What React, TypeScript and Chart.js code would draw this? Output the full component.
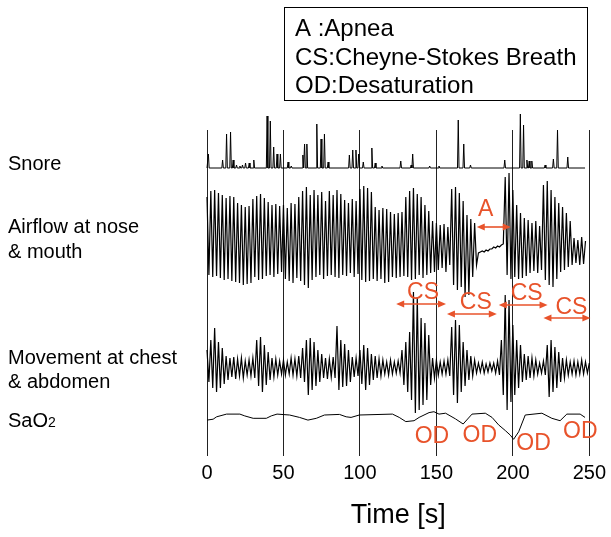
import React, { useEffect, useRef } from 'react';
import { Chart, registerables } from 'chart.js';

Chart.register(...registerables);

const FONT = "'Liberation Sans', Arial, Helvetica, sans-serif";
const RED = '#e8532b';

// ---------------- data ----------------
const timeStep = 1.25; // seconds between airflow / movement samples (alternating peak / trough)

// Snore spikes: time (s) and height (arbitrary units)
const snoreTimes = [0.9, 10.2, 12.8, 15.4, 17.1, 19.3, 21.5, 23.2, 25.2, 27.6, 30.6, 39.3, 41.4, 43.6, 45.8, 48.0, 53.0, 55.1, 62.7, 63.8, 65.3, 71.8, 74.6, 76.8, 79.2, 93.1, 95.3, 97.4, 99.2, 102.2, 107.8, 110.0, 114.4, 126.7, 133.5, 134.5, 145.6, 151.7, 164.3, 167.9, 172.3, 194.7, 204.9, 207.0, 209.2, 210.7, 212.4, 221.1, 226.5, 229.2, 235.9];
const snoreHeights = [14, 8, 34, 36, 8, 3, 2, 3, 5, 5, 8, 52, 47, 21, 14, 14, 6, 2, 13, 24, 24, 44, 29, 34, 6, 13, 18, 18, 14, 6, 20, 5, 2, 7, 3, 14, 2, 2, 48, 24, 3, 8, 54, 43, 8, 7, 7, 3, 9, 38, 11];
const snoreEnd = 247.2;

// Airflow at nose & mouth (8 samples = 10 s per row)
const airflow = [
  38, -40, 44, -42, 45, -41, 42, -43,
  40, -45, 37, -44, 39, -46, 38, -47,
  32, -48, 30, -50, 28, -49, 29, -48,
  36, -42, 39, -45, 41, -44, 37, -41,
  33, -40, 30, -42, 31, -39, 29, -37,
  30, -44, 27, -46, 32, -48, 31, -43,
  38, -46, 44, -50, 48, -53, 40, -45,
  45, -42, 40, -40, 43, -44, 34, -41,
  44, -40, 40, -42, 45, -43, 41, -40,
  35, -41, 32, -38, 36, -42, 34, -39,
  46, -45, 49, -47, 47, -46, 43, -44,
  28, -46, 25, -44, 27, -48, 26, -47,
  23, -42, 21, -43, 22, -42, 23, -41,
  38, -42, 44, -45, 47, -44, 41, -40,
  38, -43, 30, -40, 24, -38, 14, -37,
  12, -35, 10, -33, 11, -37, 8, -30,
  46, -50, 48, -55, 42, -52, 34, -62,
  20, -60, 16, -42, 12, -30, -18, -17,
  -16, -17, -15, -16, -14, -14, -12, -13,
  -11, -12, -10, -9, 58, -40, 62, -44,
  45, -42, 30, -44, 22, -43, 17, -41,
  15, -38, 12, -36, 14, -38, 9, -35,
  50, -45, 54, -50, 45, -52, 38, -44,
  32, -37, 28, -35, 22, -32, 14, -30,
  -3, -28, -5, -30, -2, -29, -6,
];

// Movement at chest & abdomen (8 samples = 10 s per row)
const movement = [
  20, -12, 30, -18, 42, -22, 28, -18,
  22, -14, 14, -10, 12, -7, 13, -9,
  11, -6, 12, -8, 9, -5, 10, -6,
  12, -8, 30, -16, 33, -22, 25, -15,
  18, -10, 12, -7, 11, -5, 9, -4,
  10, -5, 8, -4, 12, -5, 11, -6,
  14, -8, 22, -12, 30, -25, 32, -20,
  28, -16, 20, -12, 16, -8, 12, -9,
  11, -7, 13, -8, 44, -20, 30, -17,
  26, -16, 20, -12, 13, -7, 12, -6,
  20, -14, 25, -20, 22, -15, 16, -10,
  14, -8, 11, -6, 10, -4, 8, -5,
  10, -4, 8, -3, 9, -3, 20, -15,
  28, -22, 38, -30, 78, -43, 73, -40,
  52, -35, 47, -30, 35, -15, 12, -8,
  10, -5, 8, -4, 9, -4, 10, -6,
  43, -25, 50, -33, 45, -22, 28, -16,
  20, -10, 14, -6, 10, -3, 7, -2,
  8, -3, 6, -2, 7, -1, 7, -3,
  9, -5, 30, -25, 75, -40, 70, -32,
  45, -25, 30, -18, 25, -12, 16, -10,
  14, -8, 12, -6, 10, -4, 7, -3,
  9, -5, 25, -27, 30, -22, 23, -18,
  18, -12, 12, -8, 10, -5, 8, -4,
  9, -5, 8, -4, 10, -4, 8, -3, 7,
];

// SaO2 (%)
const sao2Times = [0, 4, 6.3, 12.8, 21.5, 24.7, 30.2, 38.8, 42, 45.8, 54, 60.5, 66, 71.5, 76.8, 86.6, 91, 94.2, 99.6, 121.3, 125.7, 130, 135.4, 138.7, 145.2, 148.4, 151.7, 156, 162.5, 167.5, 173.3, 182, 186.4, 190.7, 195.1, 198.3, 200.5, 203.8, 208.1, 219, 225.5, 230.9, 235.3, 244, 247.2];
const sao2Values = [95.3, 95.6, 96.4, 97.3, 97.3, 96.7, 95.9, 95.9, 96.7, 97.3, 97.0, 96.2, 95.3, 95.9, 97.0, 97.2, 96.4, 96.2, 97.0, 97.3, 96.2, 94.8, 95.1, 96.2, 97.8, 98.1, 97.3, 97.6, 95.7, 94.0, 97.3, 97.6, 96.2, 93.7, 91.8, 90.3, 88.9, 91.4, 97.0, 97.6, 95.9, 95.1, 97.3, 97.3, 96.2];

// Annotations (A = apnea, CS = Cheyne-Stokes, OD = desaturation)
const arrowStarts = [176.4, 123.7, 156.9, 190.8, 220.0];
const arrowEnds = [198.6, 156.3, 189.5, 222.7, 250.7];
const arrowAxes = ['yAir', 'yMove', 'yMove', 'yMove', 'yMove'];
const arrowLevels = [8, 66, 56, 65, 52];

const noteTexts = ['A', 'CS', 'CS', 'CS', 'CS', 'OD', 'OD', 'OD', 'OD'];
const noteTimes = [182.3, 141.3, 175.8, 209.0, 238.3, 147.1, 178.4, 213.5, 244.1];
const noteAxes = ['yAir', 'yMove', 'yMove', 'yMove', 'yMove', 'ySao2', 'ySao2', 'ySao2', 'ySao2'];
const noteLevels = [25, 77, 67, 76, 62, 89.7, 90.0, 87.3, 91.3];

const legendLines = ['A :Apnea', 'CS:Cheyne-Stokes Breath', 'OD:Desaturation'];
const traceLabels = ['Snore', 'Airflow at nose', '& mouth', 'Movement at chest', '& abdomen'];
const traceLabelBaselines = [170, 233, 258, 364, 388];

// ---------------- build series ----------------
const snorePoints: { x: number; y: number }[] = [{ x: 0, y: 0 }];
snoreTimes.forEach((t, i) => {
  snorePoints.push({ x: t - 0.5, y: 0 });
  snorePoints.push({ x: t, y: snoreHeights[i] });
  snorePoints.push({ x: t + 0.5, y: 0 });
});
snorePoints.push({ x: snoreEnd, y: 0 });

const airflowPoints = airflow.map((v, i) => ({ x: i * timeStep, y: v }));
const movementPoints = movement.map((v, i) => ({ x: i * timeStep, y: v }));
const sao2Points = sao2Times.map((t, i) => ({ x: t, y: sao2Values[i] }));

function drawDoubleArrow(ctx: CanvasRenderingContext2D, x1: number, x2: number, y: number) {
  const head = 8;
  const half = 3.6;
  ctx.beginPath();
  ctx.moveTo(x1 + head - 1, y);
  ctx.lineTo(x2 - head + 1, y);
  ctx.stroke();
  ctx.beginPath();
  ctx.moveTo(x1, y);
  ctx.lineTo(x1 + head, y - half);
  ctx.lineTo(x1 + head, y + half);
  ctx.closePath();
  ctx.fill();
  ctx.beginPath();
  ctx.moveTo(x2, y);
  ctx.lineTo(x2 - head, y - half);
  ctx.lineTo(x2 - head, y + half);
  ctx.closePath();
  ctx.fill();
}

const overlayPlugin = {
  id: 'overlay',
  afterDatasetsDraw(chart: any) {
    const ctx: CanvasRenderingContext2D = chart.ctx;
    const xs = chart.scales.x;
    ctx.save();
    ctx.strokeStyle = RED;
    ctx.fillStyle = RED;
    ctx.lineWidth = 1.6;
    arrowStarts.forEach((s, i) => {
      const y = chart.scales[arrowAxes[i]].getPixelForValue(arrowLevels[i]);
      drawDoubleArrow(ctx, xs.getPixelForValue(s), xs.getPixelForValue(arrowEnds[i]), y);
    });
    ctx.font = `23px ${FONT}`;
    ctx.textAlign = 'center';
    ctx.textBaseline = 'middle';
    noteTexts.forEach((txt, i) => {
      const x = xs.getPixelForValue(noteTimes[i]);
      const y = chart.scales[noteAxes[i]].getPixelForValue(noteLevels[i]);
      ctx.fillText(txt, x, y);
    });
    ctx.restore();
  },
  afterDraw(chart: any) {
    const ctx: CanvasRenderingContext2D = chart.ctx;
    ctx.save();
    // legend box
    ctx.strokeStyle = '#000';
    ctx.lineWidth = 1;
    ctx.strokeRect(284.5, 7.5, 303, 93);
    ctx.fillStyle = '#000';
    ctx.font = `24px ${FONT}`;
    ctx.textAlign = 'left';
    ctx.textBaseline = 'alphabetic';
    const legendBaselines = [36, 64.5, 93];
    legendLines.forEach((l, i) => ctx.fillText(l, 295, legendBaselines[i]));
    // trace labels
    ctx.font = `20px ${FONT}`;
    traceLabels.forEach((l, i) => ctx.fillText(l, 8, traceLabelBaselines[i]));
    ctx.fillText('SaO', 8, 427);
    const w = ctx.measureText('SaO').width;
    ctx.font = `14px ${FONT}`;
    ctx.fillText('2', 8 + w, 427);
    ctx.restore();
  },
};

export default function App() {
  const ref = useRef<HTMLCanvasElement | null>(null);
  useEffect(() => {
    if (!ref.current) return;
    Chart.defaults.font.family = FONT;
    const chart = new Chart(ref.current, {
      type: 'line',
      data: {
        datasets: [
          { label: 'Snore', data: snorePoints, yAxisID: 'ySnore', borderColor: '#000', borderWidth: 1, pointRadius: 0, clip: false as any },
          { label: 'Airflow at nose & mouth', data: airflowPoints, yAxisID: 'yAir', borderColor: '#000', borderWidth: 1.2, pointRadius: 0, clip: false as any },
          { label: 'Movement at chest & abdomen', data: movementPoints, yAxisID: 'yMove', borderColor: '#000', borderWidth: 1.2, pointRadius: 0, clip: false as any },
          { label: 'SaO2', data: sao2Points, yAxisID: 'ySao2', borderColor: '#000', borderWidth: 1, pointRadius: 0, clip: false as any },
        ],
      },
      options: {
        animation: false,
        responsive: false,
        events: [],
        layout: { padding: { left: 207, right: 20, top: 130, bottom: 0 } },
        plugins: { legend: { display: false }, tooltip: { enabled: false } },
        scales: {
          x: {
            type: 'linear',
            min: 0,
            max: 250,
            ticks: { stepSize: 50, color: '#000', padding: 5, font: { size: 20, family: FONT } },
            grid: { color: '#222', lineWidth: 1, drawTicks: false },
            border: { display: false },
            title: { display: true, text: 'Time [s]', color: '#000', font: { size: 27, family: FONT }, padding: { top: 0, bottom: 5 } },
            afterFit: (scale: any) => { scale.height = 81; },
          },
          ySnore: { type: 'linear', position: 'left', display: false, stack: 'traces', stackWeight: 40, weight: 4, min: -2, max: 38 },
          yAir: { type: 'linear', position: 'left', display: false, stack: 'traces', stackWeight: 130, weight: 3, min: -65, max: 65 },
          yMove: { type: 'linear', position: 'left', display: false, stack: 'traces', stackWeight: 110, weight: 2, min: -40, max: 70 },
          ySao2: { type: 'linear', position: 'left', display: false, stack: 'traces', stackWeight: 46, weight: 1, min: 83.33, max: 98.67 },
        } as any,
      },
      plugins: [overlayPlugin],
    });
    return () => chart.destroy();
  }, []);
  return (
    <div style={{ position: 'absolute', left: 0, top: 0, width: 611, height: 537, background: '#fff' }}>
      <canvas ref={ref} width={611} height={537} style={{ width: 611, height: 537, display: 'block' }} />
    </div>
  );
}
